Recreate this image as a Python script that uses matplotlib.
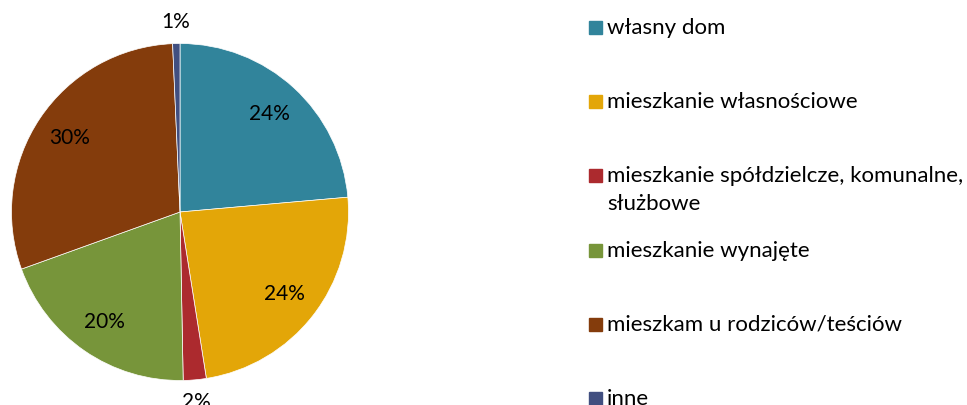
import numpy as np
import matplotlib.pyplot as plt
from matplotlib.patches import Rectangle

# housing situation shares (%)
labels = [
    "własny dom",
    "mieszkanie własnościowe",
    "mieszkanie spółdzielcze, komunalne,\nsłużbowe",
    "mieszkanie wynajęte",
    "mieszkam u rodziców/teściów",
    "inne",
]
shares = [23.6, 23.9, 2.2, 19.8, 29.8, 0.7]
colors = ["#31849B", "#E3A608", "#AC2A2E", "#77953A", "#843C0C", "#414F80"]

plt.rcParams['font.family'] = ['Lato', 'DejaVu Sans']

W, H = 967, 405
fig = plt.figure(figsize=(W / 100, H / 100), dpi=100)
ax = fig.add_axes([11.5 / W, 24.5 / H, 337 / W, 337 / H])
wedges, texts, autotexts = ax.pie(
    shares, colors=colors, startangle=90, counterclock=False,
    autopct='%.0f%%', pctdistance=0.79,
    wedgeprops=dict(linewidth=0.5, edgecolor='white'),
    textprops=dict(fontsize=15, color='black'),
)
ax.set_xlim(-1, 1)
ax.set_ylim(-1, 1)

# tiny slices get their label outside the pie
for w, t, s in zip(wedges, autotexts, shares):
    if s < 3:
        mid = np.deg2rad((w.theta1 + w.theta2) / 2)
        t.set_position((1.13 * np.cos(mid), 1.13 * np.sin(mid)))

# legend drawn by hand so wrapped labels hang below the first line like in Excel
row_step = 74.3
line_step = 27.3
first_base = 33.7
for i, (lab, c) in enumerate(zip(labels, colors)):
    base = first_base + i * row_step
    fig.add_artist(Rectangle((589 / W, 1 - base / H), 13 / W, 13 / H,
                             transform=fig.transFigure, color=c))
    for j, line in enumerate(lab.split("\n")):
        fig.text(607 / W, 1 - (base + j * line_step) / H, line,
                 va='baseline', ha='left', fontsize=16)

fig.savefig('out.png', dpi=100)
